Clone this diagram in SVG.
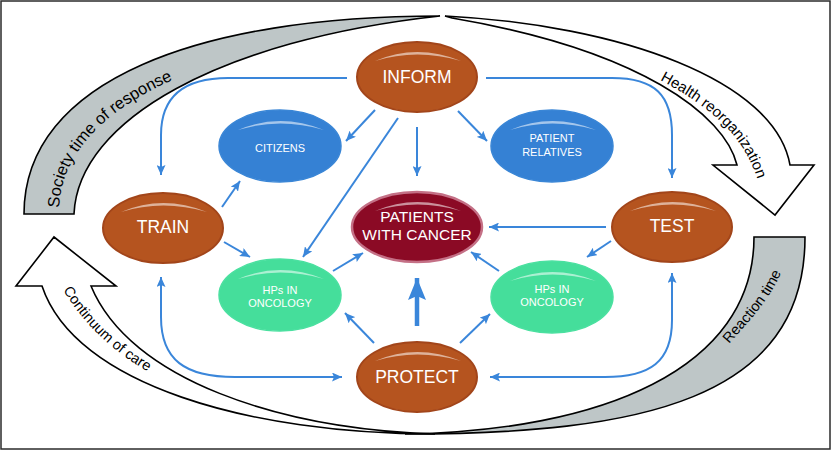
<svg xmlns="http://www.w3.org/2000/svg" width="832" height="451" viewBox="0 0 832 451">
<style>
.frame{fill:#fff;stroke:#2b2b2b;stroke-width:1.5}
.gray{fill:#bec6c7;stroke:#000;stroke-width:1.6;stroke-linejoin:miter}
.white{fill:#fff;stroke:#000;stroke-width:1.6;stroke-linejoin:miter}
.orange{fill:#b5541f;stroke:#a2451a;stroke-width:2}
.blue{fill:#3581d4;stroke:#3a86d6;stroke-width:1.5}
.green{fill:#45de9b;stroke:#4be0a0;stroke-width:1.5}
.red{fill:#8b0a25;stroke:#c47086;stroke-width:2.5}
.hl{fill:#fff;opacity:0.55}
.lbl{font-family:"Liberation Sans",Arial,sans-serif;fill:#fff;text-anchor:middle}
.big{font-size:17.5px}
.mid{font-size:15.5px}
.small{font-size:11px}
.conn{fill:none;stroke:#3a86da;stroke-width:2}
.thick{fill:none;stroke:#3a86da;stroke-width:4.5}
.curv{font-family:"Liberation Sans",Arial,sans-serif;fill:#000}
</style>
<defs>
<marker id="ah" viewBox="0 0 10 9" refX="10" refY="4.5" markerWidth="10" markerHeight="9" markerUnits="userSpaceOnUse" orient="auto-start-reverse">
<path d="M0,0 L10,4.5 L0,9 L2,4.5 Z" fill="#3a86da"/>
</marker>
<marker id="ahBig" viewBox="0 0 22 18" refX="22" refY="9" markerWidth="22" markerHeight="18" markerUnits="userSpaceOnUse" orient="auto">
<path d="M0,0 L22,9 L0,18 L4,9 Z" fill="#3a86da"/>
</marker>
<path id="hlp" d="M-42,-16 Q0,-34 44,-16 Q0,-29 -42,-16 Z"/>
<path id="tpA" d="M59,211 C60,115 190,40 440,26"/>
<path id="tpB" d="M660,80 C705,104 742,132 757,178 L762,205"/>
<path id="tpC" d="M729,344 C752,318 772,297 784,266 L794,235"/>
<path id="tpD" d="M63,290 C85,326 115,353 152,374 L180,388"/>
</defs>

<rect class="frame" x="1" y="1" width="829" height="448"/>

<g id="cycle">
<path class="gray" d="M24,214 C24,80 200,16 440,16 C220,40 78,120 74,214 Z"/>
<path class="white" d="M445,16 C620,25 775,80 790,165 L814,165 L775,215 L713,165 L737,165 C725,115 640,50 452,18 Z"/>
<path class="gray" d="M805,237 C805,400 640,434 405,434 C600,431 754,370 754,237 Z"/>
<path class="white" d="M42,286 C75,385 250,434 435,434 C280,429 130,380 91,286 L116,286 L54,237 L16,286 Z"/>
<text class="curv" font-size="16.5"><textPath href="#tpA" startOffset="3">Society time of response</textPath></text>
<text class="curv" font-size="15"><textPath href="#tpB" startOffset="0">Health reorganization</textPath></text>
<text class="curv" font-size="14.5"><textPath href="#tpC" startOffset="0">Reaction time</textPath></text>
<text class="curv" font-size="14.5"><textPath href="#tpD" startOffset="0">Continuum of care</textPath></text>
</g>

<g id="connectors">
<path class="conn" marker-end="url(#ah)" d="M347,78 L228,78 C185,78 161,95 161,135 L161,175"/>
<path class="conn" marker-end="url(#ah)" d="M486,78 L612,78 C655,78 672,95 672,135 L672,178"/>
<path class="conn" marker-end="url(#ah)" d="M375,110 L346,141"/>
<path class="conn" marker-end="url(#ah)" d="M458,111 L487,141"/>
<path class="conn" marker-end="url(#ah)" d="M417,127 L417,176"/>
<path class="conn" marker-end="url(#ah)" d="M398,118 L303,257"/>
<path class="conn" marker-end="url(#ah)" d="M222,207 L240,181"/>
<path class="conn" marker-end="url(#ah)" d="M224,242 L250,257"/>
<path class="conn" marker-end="url(#ah)" d="M333,271 L363,253"/>
<path class="conn" marker-end="url(#ah)" d="M606,227 L489,227"/>
<path class="conn" marker-end="url(#ah)" d="M611,241 L587,257"/>
<path class="conn" marker-end="url(#ah)" d="M499,271 L471,252"/>
<path class="thick" marker-end="url(#ahBig)" d="M417,326 L417,278"/>
<path class="conn" marker-end="url(#ah)" d="M374,343 L345,313"/>
<path class="conn" marker-end="url(#ah)" d="M460,343 L490,314"/>
<path class="conn" marker-start="url(#ah)" marker-end="url(#ah)" d="M161,277 L161,317 C161,360 185,377 235,377 L342,377"/>
<path class="conn" marker-start="url(#ah)" marker-end="url(#ah)" d="M672,273 L672,320 C672,362 650,377 605,377 L490,377"/>
</g>

<g id="inform">
<ellipse class="orange" cx="417" cy="77" rx="60" ry="35"/>
<use href="#hlp" class="hl" x="417" y="77"/>
<text class="lbl big" x="417" y="83">INFORM</text>
</g>
<g id="citizens">
<ellipse class="blue" cx="280" cy="146" rx="61" ry="36"/>
<use href="#hlp" class="hl" x="280" y="146"/>
<text class="lbl small" x="280" y="152">CITIZENS</text>
</g>
<g id="relatives">
<ellipse class="blue" cx="552" cy="146" rx="61" ry="36"/>
<use href="#hlp" class="hl" x="552" y="146"/>
<text class="lbl small" x="552" y="142">PATIENT</text>
<text class="lbl small" x="552" y="156">RELATIVES</text>
</g>
<g id="train">
<ellipse class="orange" cx="163" cy="228" rx="60" ry="35"/>
<use href="#hlp" class="hl" x="163" y="228"/>
<text class="lbl big" x="163" y="233">TRAIN</text>
</g>
<g id="test">
<ellipse class="orange" cx="672" cy="227" rx="60" ry="35"/>
<use href="#hlp" class="hl" x="672" y="227"/>
<text class="lbl big" x="672" y="232">TEST</text>
</g>
<g id="patients">
<ellipse class="red" cx="417" cy="227" rx="65" ry="35"/>
<use href="#hlp" class="hl" x="417" y="227"/>
<text class="lbl mid" x="417" y="222">PATIENTS</text>
<text class="lbl mid" x="417" y="240">WITH CANCER</text>
</g>
<g id="hps-left">
<ellipse class="green" cx="280" cy="295" rx="61" ry="36"/>
<use href="#hlp" class="hl" x="280" y="295"/>
<text class="lbl small" x="280" y="294">HPs IN</text>
<text class="lbl small" x="280" y="307">ONCOLOGY</text>
</g>
<g id="hps-right">
<ellipse class="green" cx="552" cy="297" rx="61" ry="36"/>
<use href="#hlp" class="hl" x="552" y="297"/>
<text class="lbl small" x="552" y="293">HPs IN</text>
<text class="lbl small" x="552" y="306">ONCOLOGY</text>
</g>
<g id="protect">
<ellipse class="orange" cx="417" cy="377" rx="60" ry="35"/>
<use href="#hlp" class="hl" x="417" y="377"/>
<text class="lbl big" x="417" y="383">PROTECT</text>
</g>
</svg>
